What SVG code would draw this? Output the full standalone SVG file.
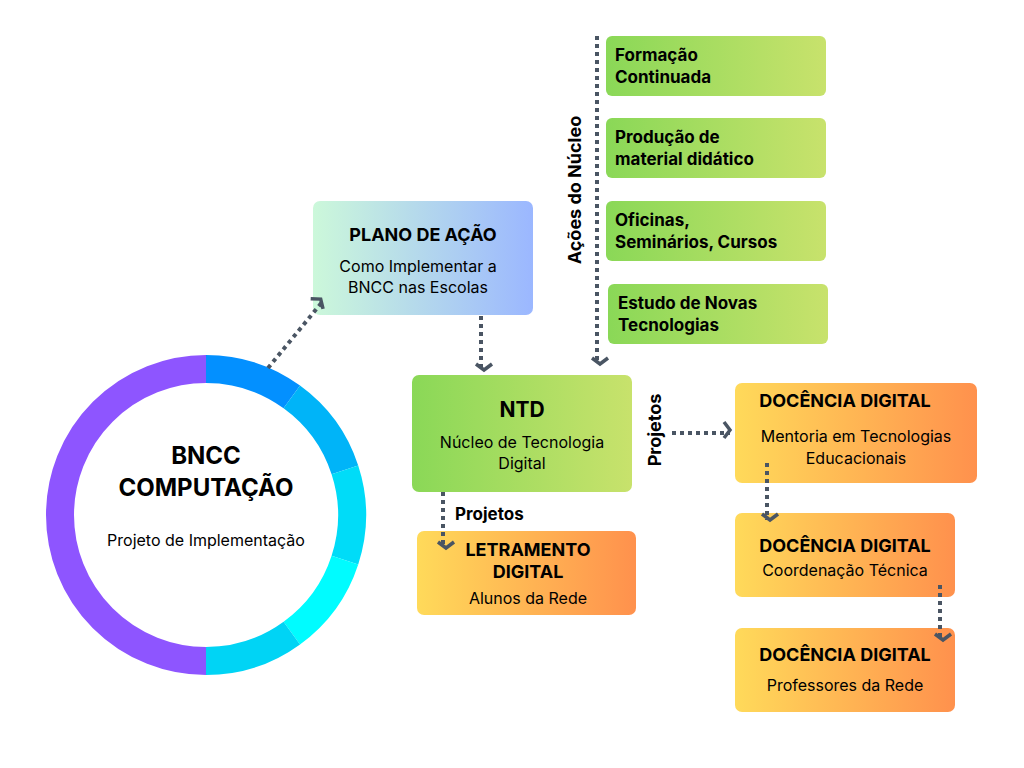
<svg xmlns="http://www.w3.org/2000/svg" width="1024" height="768" viewBox="0 0 1024 768">
<style>
text{font-family:Inter,"Noto Sans","Liberation Sans",sans-serif;fill:#000;text-anchor:middle}
.t{font-weight:700;font-size:18px}
.s{font-size:16px}
.g{font-weight:700;font-size:17px;text-anchor:start}
.c{fill:none;stroke:#4A5563;stroke-width:4;stroke-dasharray:4 4}
.seg{fill:none;stroke-width:28}
</style>
<defs>
<linearGradient id="gp" x1="0" x2="1"><stop offset="0" stop-color="#CCF8DA"/><stop offset="1" stop-color="#9BB7FF"/></linearGradient>
<linearGradient id="gg" x1="0" x2="1"><stop offset="0" stop-color="#8AD857"/><stop offset="1" stop-color="#C8E26C"/></linearGradient>
<linearGradient id="go" x1="0" x2="1"><stop offset="0" stop-color="#FFDA5A"/><stop offset="1" stop-color="#FF914D"/></linearGradient>
<marker id="ah" markerWidth="6" markerHeight="6" refX="3" refY="3" orient="auto" markerUnits="userSpaceOnUse" viewBox="0 0 6 6" style="overflow:visible">
<path d="M-3,-5 L3,3 L-3,11" transform="translate(0,-3) scale(1)" fill="none" stroke="#4A5563" stroke-width="3.5"/>
</marker>
</defs>
<rect width="1024" height="768" fill="#fff"/>
<g id="bncc">
<path class="seg" stroke="#8E55FF" d="M206,661 A146,146 0 0 1 206,369"/>
<path class="seg" stroke="#0390FF" d="M206,369 A146,146 0 0 1 291.8,396.9"/>
<path class="seg" stroke="#00B4F8" d="M291.8,396.9 A146,146 0 0 1 344.9,469.9"/>
<path class="seg" stroke="#00DCF8" d="M344.9,469.9 A146,146 0 0 1 344.9,560.1"/>
<path class="seg" stroke="#00FCFF" d="M344.9,560.1 A146,146 0 0 1 291.8,633.1"/>
<path class="seg" stroke="#00D4F5" d="M291.8,633.1 A146,146 0 0 1 206,661"/>
<text x="206" y="464" style="font-weight:700;font-size:24px">BNCC</text>
<text x="206" y="496" style="font-weight:700;font-size:24px">COMPUTAÇÃO</text>
<text x="206" y="546" class="s">Projeto de Implementação</text>
</g>
<g id="plano">
<rect x="313" y="201" width="220" height="114" rx="7" fill="url(#gp)"/>
<text x="423" y="241" class="t">PLANO DE AÇÃO</text>
<text x="418" y="272" class="s">Como Implementar a</text>
<text x="418" y="293" class="s">BNCC nas Escolas</text>
</g>
<g id="ntd">
<rect x="412" y="375" width="220" height="117" rx="7" fill="url(#gg)"/>
<text x="522" y="417" style="font-weight:700;font-size:21px">NTD</text>
<text x="522" y="448" class="s">Núcleo de Tecnologia</text>
<text x="522" y="469" class="s">Digital</text>
</g>
<g id="letramento">
<rect x="417" y="531" width="219" height="84" rx="7" fill="url(#go)"/>
<text x="528" y="556" class="t">LETRAMENTO</text>
<text x="528" y="578" class="t">DIGITAL</text>
<text x="528" y="604" class="s">Alunos da Rede</text>
</g>
<g id="formacao">
<rect x="606" y="36" width="220" height="60" rx="6" fill="url(#gg)"/>
<text x="615" y="61" class="g">Formação</text>
<text x="615" y="83" class="g">Continuada</text>
</g>
<g id="producao">
<rect x="606" y="118" width="220" height="60" rx="6" fill="url(#gg)"/>
<text x="615" y="143" class="g">Produção de</text>
<text x="615" y="165" class="g">material didático</text>
</g>
<g id="oficinas">
<rect x="606" y="201" width="220" height="60" rx="6" fill="url(#gg)"/>
<text x="615" y="226" class="g">Oficinas,</text>
<text x="615" y="248" class="g">Seminários, Cursos</text>
</g>
<g id="estudo">
<rect x="608" y="284" width="220" height="60" rx="6" fill="url(#gg)"/>
<text x="618" y="309" class="g">Estudo de Novas</text>
<text x="618" y="331" class="g">Tecnologias</text>
</g>
<g id="doc1">
<rect x="735" y="383" width="242" height="100" rx="7" fill="url(#go)"/>
<text x="845" y="407" class="t">DOCÊNCIA DIGITAL</text>
<text x="856" y="442" class="s">Mentoria em Tecnologias</text>
<text x="856" y="464" class="s">Educacionais</text>
</g>
<g id="doc2">
<rect x="735" y="513" width="220" height="84" rx="7" fill="url(#go)"/>
<text x="845" y="552" class="t">DOCÊNCIA DIGITAL</text>
<text x="845" y="576" class="s">Coordenação Técnica</text>
</g>
<g id="doc3">
<rect x="735" y="628" width="220" height="84" rx="7" fill="url(#go)"/>
<text x="845" y="661" class="t">DOCÊNCIA DIGITAL</text>
<text x="845" y="691" class="s">Professores da Rede</text>
</g>
<g id="connectors">
<path class="c" d="M268,368 L323,301" marker-end="url(#ah)"/>
<path class="c" d="M481,316 L481,370" marker-end="url(#ah)"/>
<path class="c" d="M597,36 L597,364" marker-end="url(#ah)"/>
<path class="c" d="M443,492 L443,548" marker-end="url(#ah)"/>
<path class="c" d="M672,433 L730,433" marker-end="url(#ah)"/>
<path class="c" d="M767,463 L767,520" marker-end="url(#ah)"/>
<path class="c" d="M940,585 L940,640" marker-end="url(#ah)"/>
<text transform="translate(581,190) rotate(-90)" style="font-weight:700;font-size:18px">Ações do Núcleo</text>
<text transform="translate(661,430) rotate(-90)" style="font-weight:700;font-size:18px">Projetos</text>
<text x="455" y="520" class="g">Projetos</text>
</g>
</svg>
